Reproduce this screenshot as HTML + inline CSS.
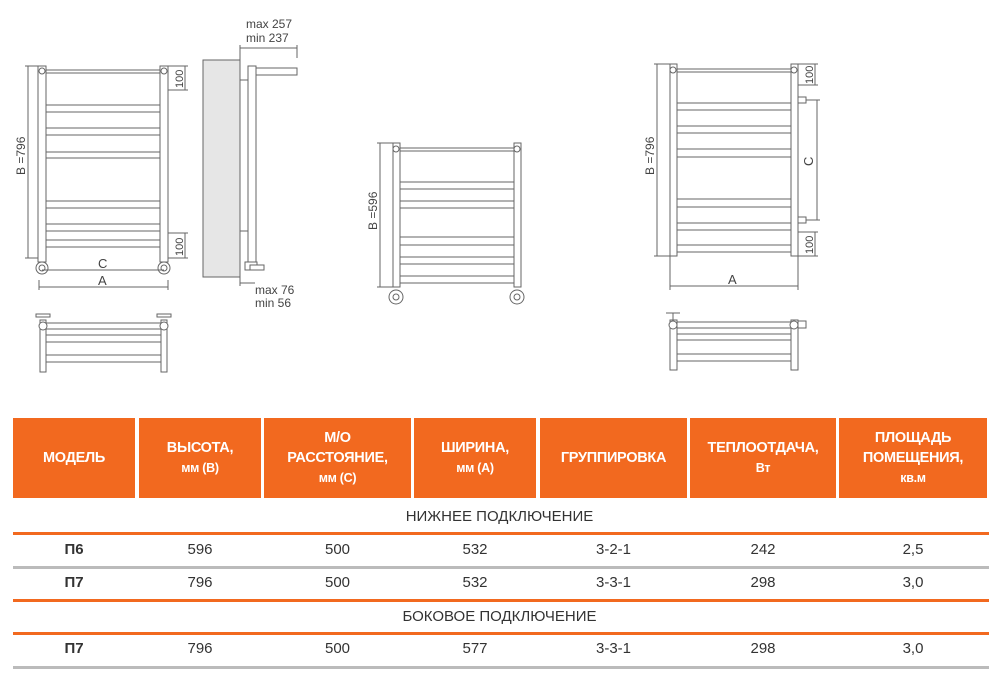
<!DOCTYPE html>
<html><head><meta charset="utf-8"><style>
body{margin:0;width:999px;height:683px;background:#fff;position:relative;overflow:hidden;font-family:"Liberation Sans",sans-serif}
svg{position:absolute;left:0;top:0}
.h{position:absolute;top:418px;height:80px;background:#f2691f;color:#fff;font-size:14.5px;font-weight:bold;display:flex;align-items:center;justify-content:center;text-align:center;line-height:20px;letter-spacing:-0.3px}
.h small{font-size:12.5px}
.sec{position:absolute;left:0;width:999px;text-align:center;font-size:15px;color:#333}
.ln{position:absolute;left:13px;width:976px;height:3px}
.row{position:absolute;font-size:15px;color:#333;text-align:center}
</style></head><body>
<svg width="999" height="410" viewBox="0 0 999 410" fill="none" stroke="#666" stroke-width="1">
<!-- drawing 1 -->
<g>
<rect x="38" y="66" width="8" height="196" fill="#fff"/>
<rect x="160" y="66" width="8" height="196" fill="#fff"/>
<circle cx="42" cy="71" r="3"/><circle cx="164" cy="71" r="3"/>
<line x1="46" y1="70" x2="160" y2="70"/><line x1="46" y1="73" x2="160" y2="73"/>
<g>
<line x1="46" y1="105" x2="160" y2="105"/><line x1="46" y1="112" x2="160" y2="112"/>
<line x1="46" y1="128" x2="160" y2="128"/><line x1="46" y1="135" x2="160" y2="135"/>
<line x1="46" y1="152" x2="160" y2="152"/><line x1="46" y1="158" x2="160" y2="158"/>
<line x1="46" y1="201" x2="160" y2="201"/><line x1="46" y1="208" x2="160" y2="208"/>
<line x1="46" y1="224" x2="160" y2="224"/><line x1="46" y1="231" x2="160" y2="231"/>
<line x1="46" y1="240" x2="160" y2="240"/><line x1="46" y1="247" x2="160" y2="247"/>
</g>
<circle cx="42" cy="268" r="6"/><circle cx="42" cy="268" r="3"/>
<circle cx="164" cy="268" r="6"/><circle cx="164" cy="268" r="3"/>
<line x1="28" y1="66" x2="28" y2="258"/><line x1="25" y1="66" x2="38" y2="66"/><line x1="25" y1="258" x2="38" y2="258"/>
<line x1="185" y1="66" x2="185" y2="90"/><line x1="168" y1="66" x2="188" y2="66"/><line x1="168" y1="90" x2="188" y2="90"/>
<line x1="185" y1="233" x2="185" y2="258"/><line x1="168" y1="233" x2="188" y2="233"/><line x1="168" y1="258" x2="188" y2="258"/>
<line x1="42" y1="270" x2="164" y2="270"/>
<line x1="39" y1="287" x2="168" y2="287"/><line x1="39" y1="280" x2="39" y2="290"/><line x1="168" y1="280" x2="168" y2="290"/>
</g>
<!-- side view -->
<rect x="203" y="60" width="37" height="217" fill="#e6e6e6"/>
<rect x="248" y="66" width="8" height="196" fill="#fff"/>
<rect x="256" y="68" width="41" height="7" fill="#fff"/>
<line x1="240" y1="80" x2="248" y2="80"/><line x1="240" y1="231" x2="248" y2="231"/>
<rect x="245" y="262" width="12" height="8" fill="#fff"/><rect x="250" y="265" width="14" height="5" fill="#fff"/>
<line x1="240" y1="48" x2="297" y2="48"/><line x1="240" y1="45" x2="240" y2="60"/><line x1="297" y1="45" x2="297" y2="58"/>
<line x1="240" y1="283" x2="255" y2="283"/><line x1="240" y1="277" x2="240" y2="286"/>
<!-- bottom view 1 -->
<rect x="40" y="320" width="6" height="52" fill="#fff"/><rect x="161" y="320" width="6" height="52" fill="#fff"/>
<circle cx="43" cy="326" r="4" fill="#fff"/><circle cx="164" cy="326" r="4" fill="#fff"/>
<rect x="36" y="314" width="14" height="3"/><rect x="157" y="314" width="14" height="3"/>
<line x1="46" y1="323" x2="161" y2="323"/><line x1="46" y1="329" x2="161" y2="329"/><line x1="46" y1="335" x2="161" y2="335"/><line x1="46" y1="342" x2="161" y2="342"/><line x1="46" y1="355" x2="161" y2="355"/><line x1="46" y1="362" x2="161" y2="362"/>
<!-- drawing 2 -->
<rect x="393" y="143" width="7" height="144" fill="#fff"/><rect x="514" y="143" width="7" height="144" fill="#fff"/>
<circle cx="396" cy="149" r="3"/><circle cx="517" cy="149" r="3"/>
<line x1="400" y1="148" x2="514" y2="148"/><line x1="400" y1="151" x2="514" y2="151"/>
<line x1="400" y1="182" x2="514" y2="182"/><line x1="400" y1="189" x2="514" y2="189"/>
<line x1="400" y1="201" x2="514" y2="201"/><line x1="400" y1="208" x2="514" y2="208"/>
<line x1="400" y1="237" x2="514" y2="237"/><line x1="400" y1="245" x2="514" y2="245"/>
<line x1="400" y1="257" x2="514" y2="257"/><line x1="400" y1="264" x2="514" y2="264"/>
<line x1="400" y1="276" x2="514" y2="276"/><line x1="400" y1="283" x2="514" y2="283"/>
<circle cx="396" cy="297" r="7"/><circle cx="396" cy="297" r="3"/><circle cx="517" cy="297" r="7"/><circle cx="517" cy="297" r="3"/>
<line x1="380" y1="143" x2="380" y2="287"/><line x1="377" y1="143" x2="393" y2="143"/><line x1="377" y1="287" x2="393" y2="287"/>
<!-- drawing 3 -->
<rect x="670" y="64" width="7" height="192" fill="#fff"/><rect x="791" y="64" width="7" height="192" fill="#fff"/>
<circle cx="673" cy="70" r="3"/><circle cx="794" cy="70" r="3"/>
<line x1="677" y1="69" x2="791" y2="69"/><line x1="677" y1="72" x2="791" y2="72"/>
<line x1="677" y1="103" x2="791" y2="103"/><line x1="677" y1="110" x2="791" y2="110"/>
<line x1="677" y1="126" x2="791" y2="126"/><line x1="677" y1="133" x2="791" y2="133"/>
<line x1="677" y1="149" x2="791" y2="149"/><line x1="677" y1="157" x2="791" y2="157"/>
<line x1="677" y1="199" x2="791" y2="199"/><line x1="677" y1="207" x2="791" y2="207"/>
<line x1="677" y1="223" x2="791" y2="223"/><line x1="677" y1="230" x2="791" y2="230"/>
<line x1="677" y1="245" x2="791" y2="245"/><line x1="677" y1="252" x2="791" y2="252"/>
<rect x="798" y="97" width="8" height="6"/><rect x="798" y="217" width="8" height="6"/>
<line x1="817" y1="100" x2="817" y2="220"/><line x1="806" y1="100" x2="820" y2="100"/><line x1="806" y1="220" x2="820" y2="220"/>
<line x1="657" y1="64" x2="657" y2="256"/><line x1="654" y1="64" x2="670" y2="64"/><line x1="654" y1="256" x2="670" y2="256"/>
<line x1="815" y1="64" x2="815" y2="85"/><line x1="798" y1="64" x2="818" y2="64"/><line x1="798" y1="85" x2="818" y2="85"/>
<line x1="815" y1="232" x2="815" y2="256"/><line x1="798" y1="232" x2="818" y2="232"/><line x1="798" y1="256" x2="818" y2="256"/>
<line x1="670" y1="286" x2="798" y2="286"/><line x1="670" y1="256" x2="670" y2="290"/><line x1="798" y1="256" x2="798" y2="290"/>
<!-- bottom view 3 -->
<rect x="670" y="320" width="7" height="50" fill="#fff"/><rect x="791" y="320" width="7" height="50" fill="#fff"/>
<circle cx="673" cy="325" r="4" fill="#fff"/><circle cx="794" cy="325" r="4" fill="#fff"/>
<line x1="666" y1="313" x2="680" y2="313"/><line x1="673" y1="313" x2="673" y2="321"/>
<rect x="798" y="321" width="8" height="7"/>
<line x1="677" y1="322" x2="791" y2="322"/><line x1="677" y1="328" x2="791" y2="328"/><line x1="677" y1="334" x2="791" y2="334"/><line x1="677" y1="340" x2="791" y2="340"/><line x1="677" y1="354" x2="791" y2="354"/><line x1="677" y1="361" x2="791" y2="361"/>
<g stroke="none" fill="#444" font-family="Liberation Sans, sans-serif" font-size="12">
<text x="246" y="28">max 257</text><text x="246" y="42">min 237</text>
<text x="255" y="294">max 76</text><text x="255" y="307">min 56</text>
<text x="98" y="268" font-size="13">C</text><text x="98" y="285" font-size="13">A</text>
<text x="728" y="284" font-size="13">A</text>
<text transform="translate(25,175) rotate(-90)" font-size="12">B =796</text>
<text transform="translate(377,230) rotate(-90)" font-size="12">B =596</text>
<text transform="translate(654,175) rotate(-90)" font-size="12">B =796</text>
<text transform="translate(183,88) rotate(-90)" font-size="11">100</text>
<text transform="translate(183,256) rotate(-90)" font-size="11">100</text>
<text transform="translate(813,84) rotate(-90)" font-size="11">100</text>
<text transform="translate(813,254) rotate(-90)" font-size="11">100</text>
<text transform="translate(813,166) rotate(-90)" font-size="13">C</text>
</g>
</svg>
<div class="h" style="left:13px;width:122px">МОДЕЛЬ</div>
<div class="h" style="left:139px;width:122px"><div>ВЫСОТА,<br><small>мм (В)</small></div></div>
<div class="h" style="left:264px;width:147px"><div>М/О<br>РАССТОЯНИЕ,<br><small>мм (С)</small></div></div>
<div class="h" style="left:414px;width:122px"><div>ШИРИНА,<br><small>мм (А)</small></div></div>
<div class="h" style="left:540px;width:147px">ГРУППИРОВКА</div>
<div class="h" style="left:690px;width:146px"><div>ТЕПЛООТДАЧА,<br><small>Вт</small></div></div>
<div class="h" style="left:839px;width:148px"><div>ПЛОЩАДЬ<br>ПОМЕЩЕНИЯ,<br><small>кв.м</small></div></div>
<div class="sec" style="top:508px">НИЖНЕЕ ПОДКЛЮЧЕНИЕ</div>
<div class="ln" style="top:532px;background:#f2691f"></div>
<div class="ln" style="top:566px;background:#bbb"></div>
<div class="ln" style="top:599px;background:#f2691f"></div>
<div class="sec" style="top:608px">БОКОВОЕ ПОДКЛЮЧЕНИЕ</div>
<div class="ln" style="top:632px;background:#f2691f"></div>
<div class="ln" style="top:666px;background:#bbb"></div>
<div id="rows"></div>
<div class="row" style="top:541px;left:13px;width:122px;font-weight:bold">П6</div>
<div class="row" style="top:541px;left:139px;width:122px">596</div>
<div class="row" style="top:541px;left:264px;width:147px">500</div>
<div class="row" style="top:541px;left:414px;width:122px">532</div>
<div class="row" style="top:541px;left:540px;width:147px">3-2-1</div>
<div class="row" style="top:541px;left:690px;width:146px">242</div>
<div class="row" style="top:541px;left:839px;width:148px">2,5</div>
<div class="row" style="top:574px;left:13px;width:122px;font-weight:bold">П7</div>
<div class="row" style="top:574px;left:139px;width:122px">796</div>
<div class="row" style="top:574px;left:264px;width:147px">500</div>
<div class="row" style="top:574px;left:414px;width:122px">532</div>
<div class="row" style="top:574px;left:540px;width:147px">3-3-1</div>
<div class="row" style="top:574px;left:690px;width:146px">298</div>
<div class="row" style="top:574px;left:839px;width:148px">3,0</div>
<div class="row" style="top:640px;left:13px;width:122px;font-weight:bold">П7</div>
<div class="row" style="top:640px;left:139px;width:122px">796</div>
<div class="row" style="top:640px;left:264px;width:147px">500</div>
<div class="row" style="top:640px;left:414px;width:122px">577</div>
<div class="row" style="top:640px;left:540px;width:147px">3-3-1</div>
<div class="row" style="top:640px;left:690px;width:146px">298</div>
<div class="row" style="top:640px;left:839px;width:148px">3,0</div>
</body></html>
